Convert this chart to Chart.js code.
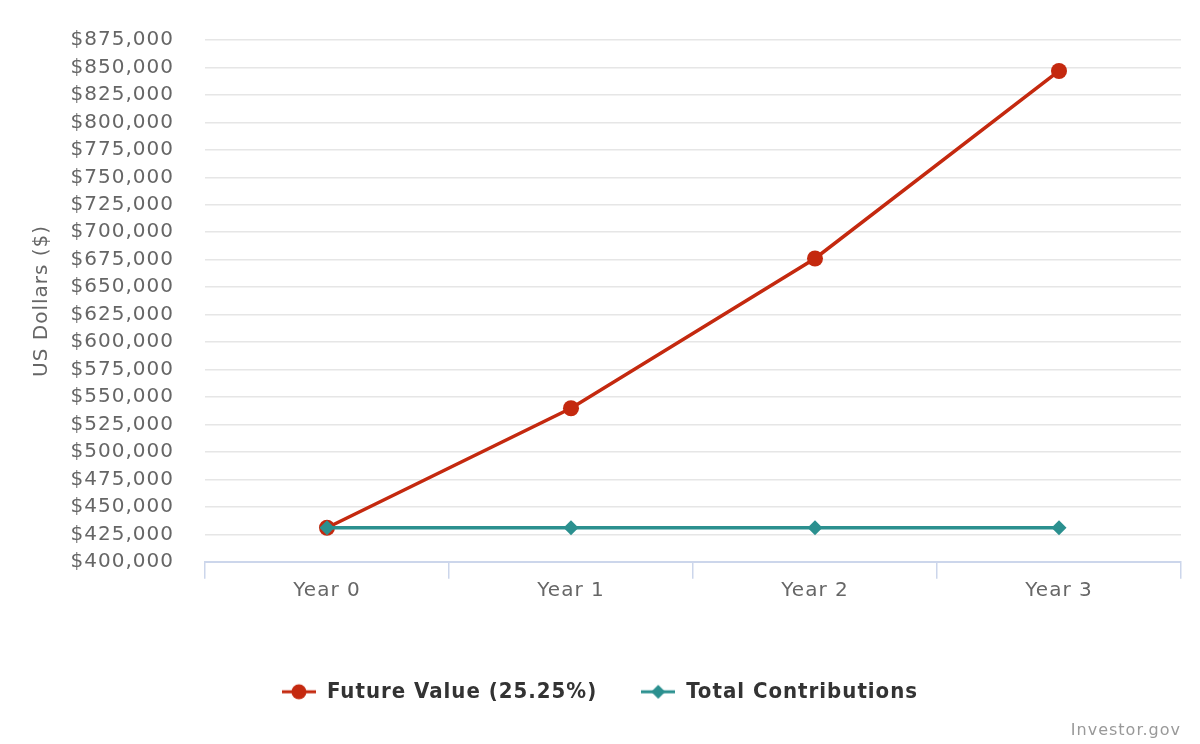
<!DOCTYPE html>
<html>
<head>
<meta charset="utf-8">
<script src="https://cdn.jsdelivr.net/npm/chart.js@4.4.1/dist/chart.umd.min.js"></script>
<style>
  html, body { margin: 0; padding: 0; background: #fff; }
  canvas { display: block; }
</style>
</head>
<body>
<canvas id="chart" width="1200" height="744"></canvas>
<script>
const years = ["Year 0", "Year 1", "Year 2", "Year 3"]
const futureValue = [431000, 539800, 676100, 846800]
const contributions = [431000, 431000, 431000, 431000]
const yMin = 400000
const yMax = 875000
const yStep = 25000

const red = "#c4290f"
const teal = "#2b908f"

// legend symbol: short line with the marker on it
function legendSymbol(color, shape) {
  const c = document.createElement("canvas")
  c.width = 34
  c.height = 18
  const ctx = c.getContext("2d")
  ctx.strokeStyle = color
  ctx.lineWidth = 3
  ctx.beginPath()
  ctx.moveTo(0, 9)
  ctx.lineTo(34, 9)
  ctx.stroke()
  ctx.fillStyle = color
  ctx.beginPath()
  if (shape === "circle") {
    ctx.arc(17, 9, 7.5, 0, Math.PI * 2)
  } else {
    ctx.moveTo(17, 2)
    ctx.lineTo(24, 9)
    ctx.lineTo(17, 16)
    ctx.lineTo(10, 9)
    ctx.closePath()
  }
  ctx.fill()
  return c
}

// the reference text is a bit wider spaced
const spacing = {
  id: "spacing",
  beforeUpdate(chart) { chart.ctx.letterSpacing = "1px" },
  beforeDraw(chart) { chart.ctx.letterSpacing = "1px" }
}

const font = "'DejaVu Sans', Verdana, sans-serif"
const legendFont = "'DejaVu Sans Condensed', 'DejaVu Sans', sans-serif"

new Chart(document.getElementById("chart"), {
  type: "line",
  plugins: [spacing],
  data: {
    labels: years,
    datasets: [
      {
        label: "Future Value (25.25%)",
        data: futureValue,
        borderColor: red,
        backgroundColor: red,
        borderWidth: 3.5,
        pointStyle: "circle",
        pointRadius: 8,
        pointBorderWidth: 0,
        order: 2
      },
      {
        label: "Total Contributions",
        data: contributions,
        borderColor: teal,
        backgroundColor: teal,
        borderWidth: 3.5,
        pointStyle: "rectRot",
        pointRadius: 7.5,
        pointBorderWidth: 0,
        order: 1
      }
    ]
  },
  options: {
    responsive: false,
    animation: false,
    layout: { padding: { top: 40, right: 19, left: 19, bottom: 4 } },
    plugins: {
      tooltip: { enabled: false },
      legend: {
        position: "bottom",
        labels: {
          usePointStyle: true,
          pointStyleWidth: 34,
          padding: 44,
          color: "#333",
          font: { family: legendFont, size: 22, weight: "bold" },
          generateLabels: (chart) => chart.data.datasets.map((ds, i) => ({
            text: ds.label,
            fillStyle: ds.borderColor,
            strokeStyle: ds.borderColor,
            pointStyle: legendSymbol(ds.borderColor, i === 0 ? "circle" : "diamond"),
            datasetIndex: i,
            fontColor: "#333",
            lineWidth: 0
          }))
        }
      },
      subtitle: {
        display: true,
        text: "Investor.gov",
        position: "bottom",
        align: "end",
        color: "#999",
        font: { family: font, size: 16 },
        padding: { top: 8, bottom: 0 }
      }
    },
    scales: {
      x: {
        offset: true,
        grid: {
          offset: true,
          drawOnChartArea: false,
          color: "#ccd6eb",
          lineWidth: 1.5,
          tickLength: 17
        },
        border: { display: true, color: "#ccd6eb", width: 2 },
        ticks: {
          color: "#666",
          padding: 0,
          maxRotation: 0,
          font: { family: font, size: 20 }
        },
        afterFit: (scale) => { scale.height = 75 }
      },
      y: {
        min: yMin,
        max: yMax,
        grid: { color: "#e6e6e6", lineWidth: 1.5, drawTicks: false },
        border: { display: false },
        title: {
          display: true,
          text: "US Dollars ($)",
          color: "#666",
          font: { family: font, size: 20 },
          padding: { top: 11, bottom: 0 }
        },
        ticks: {
          stepSize: yStep,
          color: "#666",
          padding: 31,
          autoSkip: false,
          font: { family: font, size: 20 },
          callback: (v) => "$" + v.toLocaleString("en-US")
        },
        afterFit: (scale) => {
          scale.width = 186
          scale.paddingTop = 0
          scale.paddingBottom = 0
        }
      }
    }
  }
})
</script>
</body>
</html>
